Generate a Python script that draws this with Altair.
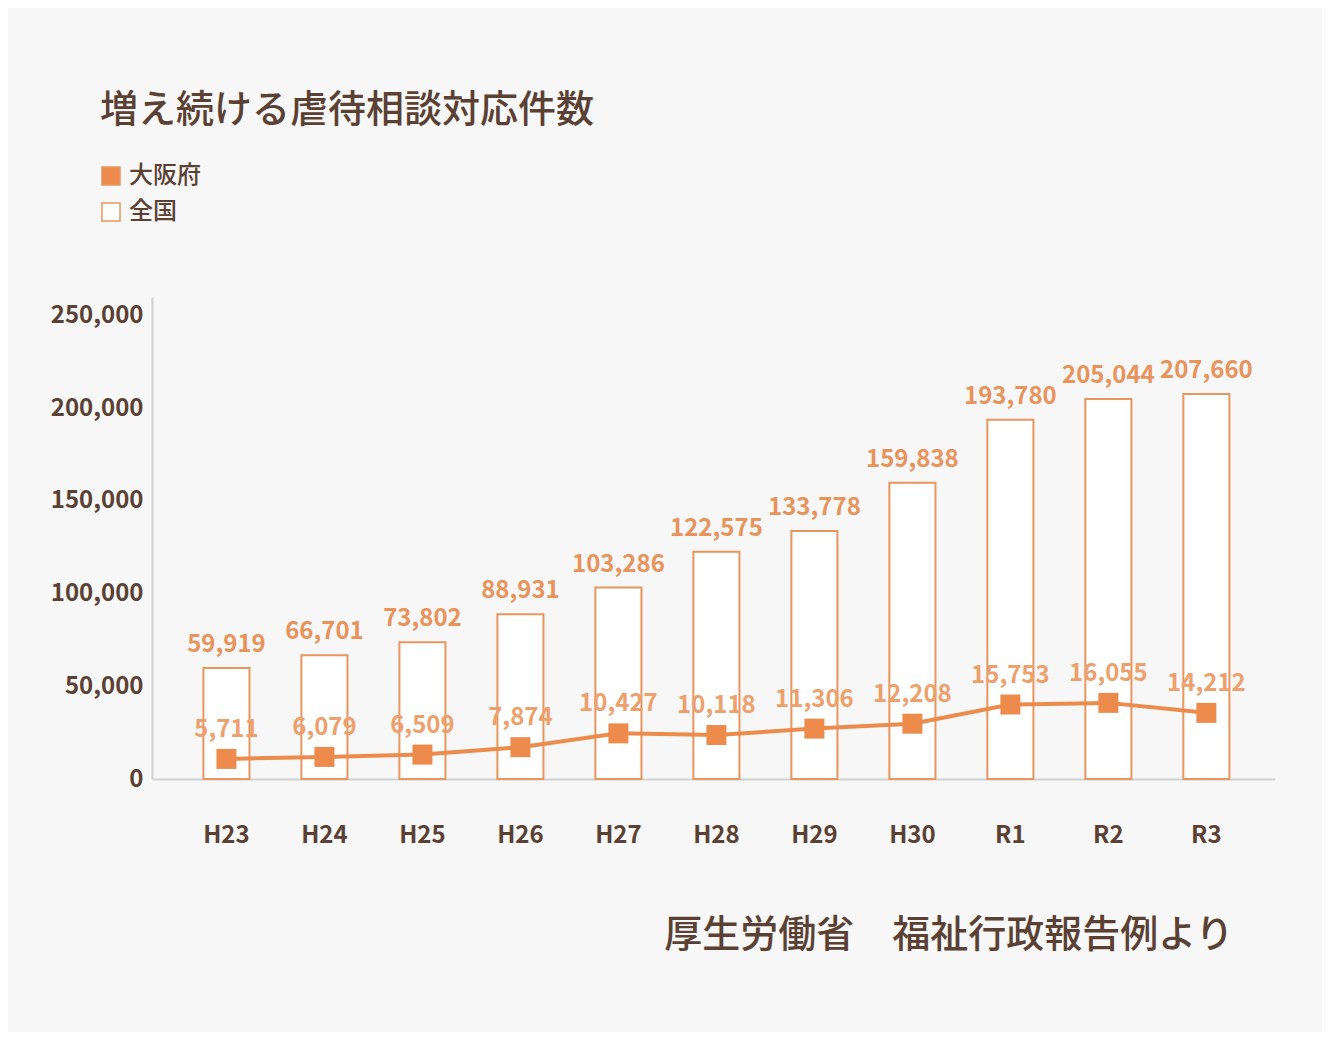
import altair as alt
import pandas as pd

years = ["H23", "H24", "H25", "H26", "H27", "H28", "H29", "H30", "R1", "R2", "R3"]
zenkoku = [59919, 66701, 73802, 88931, 103286, 122575, 133778, 159838, 193780, 205044, 207660]
osaka = [5711, 6079, 6509, 7874, 10427, 10118, 11306, 12208, 15753, 16055, 14212]
y_ticks = [0, 50000, 100000, 150000, 200000, 250000]
series_names = ["大阪府", "全国"]

df = pd.DataFrame({"year": years, "zenkoku": zenkoku, "osaka": osaka})

FONT = "Noto Sans CJK JP"
BROWN = "#5b4034"
ORANGE = "#ec8b4b"
BAR_STROKE = "#e8965e"
BAR_LABEL = "#e8935a"
LINE_LABEL = "#eea06c"

x_enc = alt.X(
    "year:N",
    sort=years,
    scale=alt.Scale(paddingInner=0.53, paddingOuter=0.495, align=0.53),
    axis=alt.Axis(
        title="厚生労働省\u3000福祉行政報告例より",
        titleFont=FONT,
        titleFontSize=38,
        titleFontWeight=500,
        titleColor=BROWN,
        titleAnchor="end",
        titleAlign="right",
        titleBaseline="middle",
        titleX=1081,
        titleY=156,
        labelFont=FONT,
        labelFontSize=24,
        labelFontWeight="bold",
        labelColor=BROWN,
        labelPadding=44,
        labelAngle=0,
        ticks=False,
        domainColor="#d2d2d2",
        domainWidth=2,
        grid=False,
    ),
)

fill_scale = alt.Scale(domain=series_names, range=[ORANGE, "#ffffff"])

bars = alt.Chart(df).transform_calculate(series="'全国'").mark_bar(
    stroke=BAR_STROKE, strokeWidth=2
).encode(
    x=x_enc,
    y=alt.Y(
        "zenkoku:Q",
        scale=alt.Scale(domain=[0, 260000]),
        axis=alt.Axis(
            title=None,
            values=y_ticks,
            format=",d",
            labelFont=FONT,
            labelFontSize=24,
            labelFontWeight="bold",
            labelColor=BROWN,
            labelPadding=9,
            ticks=False,
            grid=False,
            domainColor="#d2d2d2",
            domainWidth=2,
        ),
    ),
    fill=alt.Fill(
        "series:N",
        scale=fill_scale,
        legend=alt.Legend(
            title=None,
            orient="none",
            legendX=-53,
            legendY=-133,
            symbolType="square",
            symbolSize=324,
            symbolStrokeColor=BAR_STROKE,
            symbolStrokeWidth=1.5,
            labelFont=FONT,
            labelFontSize=24,
            labelFontWeight=500,
            labelColor=BROWN,
            labelOffset=6,
            rowPadding=12,
            padding=0,
        ),
    ),
)

bar_labels = alt.Chart(df).mark_text(
    font=FONT, fontSize=24, fontWeight="bold", color=BAR_LABEL, baseline="middle", dy=-23
).encode(
    x=alt.X("year:N", sort=years),
    y=alt.Y("zenkoku:Q", scale=alt.Scale(domain=[0, 260000])),
    text=alt.Text("zenkoku:Q", format=","),
)

osaka_scale = alt.Scale(domain=[2000, 91000], zero=False)

line = alt.Chart(df).mark_line(color=ORANGE, strokeWidth=4).encode(
    x=alt.X("year:N", sort=years),
    y=alt.Y("osaka:Q", scale=osaka_scale, axis=None),
)

points = alt.Chart(df).transform_calculate(series="'大阪府'").mark_point(
    shape="square", filled=True, size=400, opacity=1
).encode(
    x=alt.X("year:N", sort=years),
    y=alt.Y("osaka:Q", scale=osaka_scale, axis=None),
    fill=alt.Fill("series:N", scale=fill_scale),
)

point_labels = alt.Chart(df).mark_text(
    font=FONT, fontSize=24, fontWeight="bold", color=LINE_LABEL, baseline="middle", dy=-29
).encode(
    x=alt.X("year:N", sort=years),
    y=alt.Y("osaka:Q", scale=osaka_scale, axis=None),
    text=alt.Text("osaka:Q", format=","),
)

zen_layer = alt.layer(bars, bar_labels)
osaka_layer = alt.layer(line, points, point_labels)

chart = (
    alt.layer(zen_layer, osaka_layer)
    .resolve_scale(y="independent")
    .properties(
        width=1123,
        height=482,
        background="#f7f7f7",
        padding={"left": 144, "top": 289, "right": 47, "bottom": 253},
        autosize=alt.AutoSizeParams(type="none"),
        title=alt.TitleParams(
            "増え続ける虐待相談対応件数",
            anchor="start",
            frame="group",
            dx=-52,
            offset=-4,
            font=FONT,
            fontSize=38,
            fontWeight=500,
            color=BROWN,
            baseline="bottom",
        ),
    )
    .configure_view(stroke=None)
)

chart.save("out.html", embed_options={"renderer": "svg", "actions": False})
